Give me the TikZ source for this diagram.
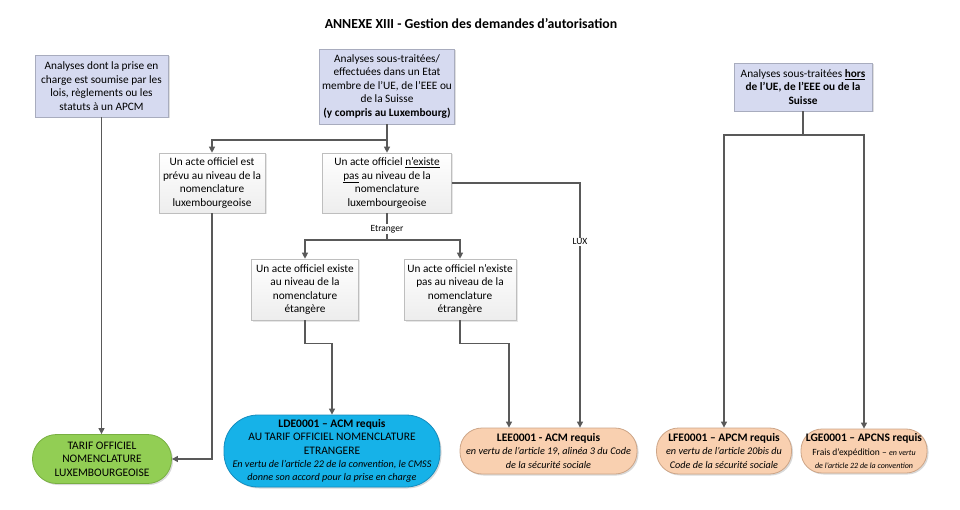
\documentclass[tikz,border=0pt]{standalone}
\usepackage{fontspec}
\setmainfont{Carlito}
\usepackage{tikz}
\usetikzlibrary{arrows.meta}
\usetikzlibrary{shadows}
\definecolor{linegray}{RGB}{89,89,89}
\definecolor{srcfill}{RGB}{214,218,240}
\definecolor{srcdraw}{RGB}{168,172,190}
\definecolor{actdraw}{RGB}{190,190,190}
\definecolor{tarifgreen}{RGB}{146,206,84}
\definecolor{tarifdraw}{RGB}{120,175,65}
\definecolor{ldeblue}{RGB}{22,178,232}
\definecolor{ldedraw}{RGB}{20,140,190}
\definecolor{peach}{RGB}{249,208,176}
\definecolor{peachdraw}{RGB}{205,165,135}

\begin{document}
\begin{tikzpicture}[x=1pt, y=-1pt,
  every node/.style={font=\fontsize{11.3}{13.5}\selectfont, align=center, inner sep=0pt},
  srcbox/.style={draw=srcdraw, fill=srcfill, line width=0.8pt,
    drop shadow={shadow xshift=1.5pt, shadow yshift=-1.5pt, opacity=0.25}},
  actbox/.style={draw=actdraw, top color=white, bottom color=gray!14, line width=0.6pt,
    drop shadow={shadow xshift=1.5pt, shadow yshift=-1.5pt, opacity=0.2}},
  endbox/.style={line width=0.8pt, font=\fontsize{11.5}{13.4}\selectfont,
    drop shadow={shadow xshift=1.5pt, shadow yshift=-1.5pt, opacity=0.3}},
  link/.style={draw=linegray, line width=1.1pt},
  arr/.style={link, -{Triangle[length=6pt, width=6pt]}},
  lbl/.style={fill=white, inner sep=1pt, font=\fontsize{9.5}{10}\selectfont}]

\useasboundingbox (0,0) rectangle (960,510);

\node[font=\fontsize{13.8}{15}\selectfont\bfseries] (title) at (471,24) {ANNEXE XIII - Gestion des demandes d’autorisation};

\node[srcbox, minimum width=133pt, minimum height=62pt] (lois) at (101.5,86) {Analyses dont la prise en\\charge est soumise par les\\lois, règlements ou les\\statuts à un APCM};
\node[srcbox, minimum width=135pt, minimum height=75pt] (eu) at (387,86.5) {Analyses sous-traitées/\\effectuées dans un Etat\\membre de l’UE, de l’EEE ou\\de la Suisse\\\textbf{(y compris au Luxembourg)}};
\node[srcbox, minimum width=138pt, minimum height=48pt] (hors) at (803,87) {Analyses sous-traitées \textbf{\underline{hors}}\\\textbf{de l’UE, de l’EEE ou de la}\\\textbf{Suisse}};

\node[actbox, minimum width=106pt, minimum height=60pt] (prevu) at (212,183) {Un acte officiel est\\prévu au niveau de la\\nomenclature\\luxembourgeoise};
\node[actbox, minimum width=129pt, minimum height=60pt] (nexiste) at (387,183) {Un acte officiel \underline{n’existe}\\\underline{pas} au niveau de la\\nomenclature\\luxembourgeoise};
\node[actbox, minimum width=107pt, minimum height=61pt] (existeetr) at (305,289.5) {Un acte officiel existe\\au niveau de la\\nomenclature\\étangère};
\node[actbox, minimum width=112pt, minimum height=61pt] (nexisteetr) at (460,289.5) {Un acte officiel n’existe\\pas au niveau de la\\nomenclature\\étrangère};

\node[endbox, draw=tarifdraw, fill=tarifgreen, rounded corners=24pt, minimum width=139pt, minimum height=49pt] (tarif) at (102,459) {TARIF OFFICIEL\\NOMENCLATURE\\LUXEMBOURGEOISE};
\node[endbox, draw=ldedraw, fill=ldeblue, rounded corners=34pt, minimum width=216pt, minimum height=72pt] (lde) at (332,451) {\textbf{LDE0001 – ACM requis}\\AU TARIF OFFICIEL NOMENCLATURE\\ETRANGERE\\{\fontsize{10.2}{13.4}\selectfont\itshape En vertu de l’article 22 de la convention, le CMSS}\\{\fontsize{10.2}{13.4}\selectfont\itshape donne son accord pour la prise en charge}};
\node[endbox, draw=peachdraw, fill=peach, rounded corners=22pt, minimum width=177pt, minimum height=46pt] (lee) at (548.5,451) {\textbf{LEE0001 - ACM requis}\\{\fontsize{10.2}{13.4}\selectfont\itshape en vertu de l’article 19, alinéa 3 du Code}\\{\fontsize{10.2}{13.4}\selectfont\itshape de la sécurité sociale}};
\node[endbox, draw=peachdraw, fill=peach, rounded corners=22pt, minimum width=135pt, minimum height=46pt] (lfe) at (724,451) {\textbf{LFE0001 – APCM requis}\\{\fontsize{10.2}{13.4}\selectfont\itshape en vertu de l’article 20bis du}\\{\fontsize{10.2}{13.4}\selectfont\itshape Code de la sécurité sociale}};
\node[endbox, draw=peachdraw, fill=peach, rounded corners=21pt, minimum width=126pt, minimum height=44pt] (lge) at (864,451) {\textbf{LGE0001 – APCNS requis}\\{\fontsize{9.5}{12}\selectfont Frais d’expédition – \textit{\fontsize{8}{12}\selectfont en vertu}}\\{\fontsize{8}{12}\selectfont\itshape de l’article 22 de la convention}};

\coordinate (euSplit) at (387,140);
\coordinate (etrSplit) at (387,240);
\coordinate (horsSplit) at (803,135);

\draw[arr] (lois.south) -- (lois.south |- tarif.north);

\draw[link] (eu.south) -- (euSplit);
\draw[arr] (euSplit) -| (prevu.north);
\draw[arr] (euSplit) -- (nexiste.north);

\draw[arr] (prevu.south) |- (tarif.east);

\draw[arr] (nexiste.east) -| node[lbl, pos=0.62] {LUX} ([xshift=31.5pt]lee.north);

\draw[link] (nexiste.south) -- node[lbl, pos=0.6] {Etranger} (etrSplit);
\draw[arr] (etrSplit) -| (existeetr.north);
\draw[arr] (etrSplit) -| (nexisteetr.north);

\draw[arr] (existeetr.south) -- ++(0,23) -| (lde.north);
\draw[arr] (nexisteetr.south) -- ++(0,23) -| ([xshift=-39.5pt]lee.north);

\draw[link] (hors.south) -- (horsSplit);
\draw[arr] (horsSplit) -| (lfe.north);
\draw[arr] (horsSplit) -| (lge.north);

\end{tikzpicture}
\end{document}
